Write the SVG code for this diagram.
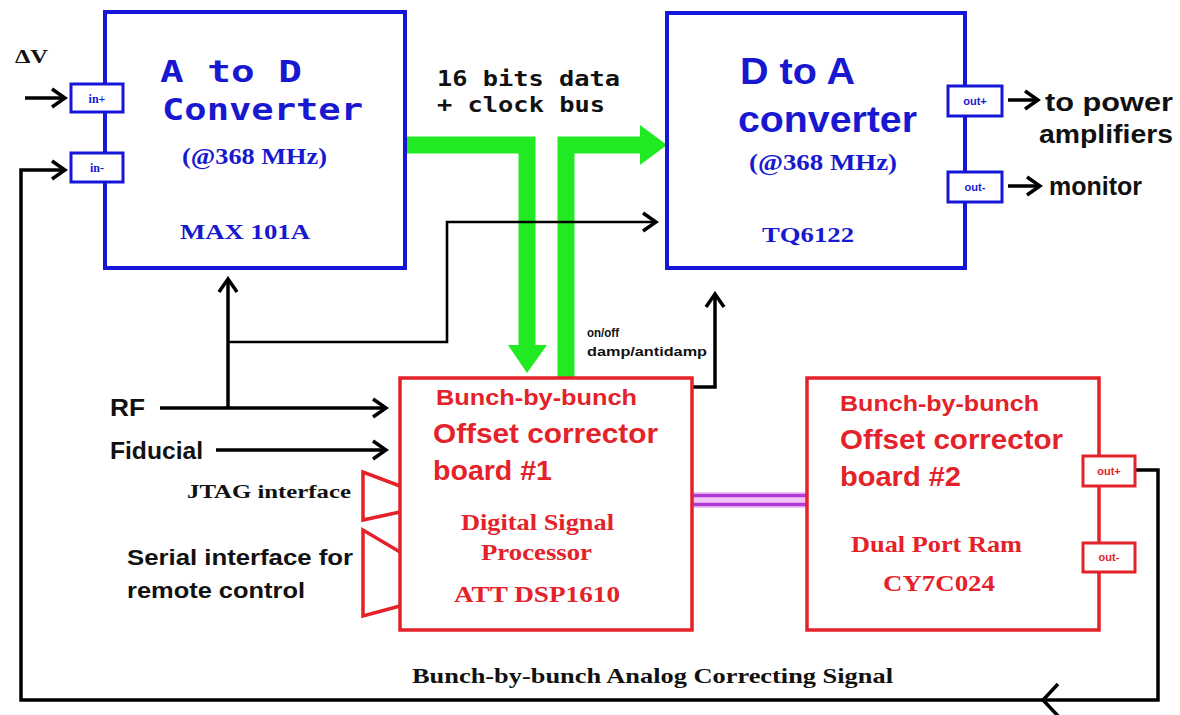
<svg xmlns="http://www.w3.org/2000/svg" width="1180" height="715" viewBox="0 0 1180 715">
<defs>
<style>
.blue{fill:#fff;stroke:#1616d8;stroke-width:4}
.red{fill:#fff;stroke:#e4222a;stroke-width:3.5}
.portb{fill:#fff;stroke:#1616d8;stroke-width:3}
.portr{fill:#fff;stroke:#e4222a;stroke-width:3}
.w{fill:none;stroke:#000;stroke-width:3.5}
.wt{fill:none;stroke:#000;stroke-width:2.6}
.bus{fill:none;stroke:#22ea22;stroke-width:17;stroke-linejoin:miter;stroke-linecap:butt}
.busHead{fill:#22ea22}
.purple{fill:none;stroke:#b03cd8;stroke-width:3.5}
.trap{fill:none;stroke:#e4222a;stroke-width:3.5;stroke-linejoin:miter}
.mono{font-family:"DejaVu Sans Mono","Liberation Mono",monospace;font-weight:bold}
.sans{font-family:"Liberation Sans",Arial,sans-serif;font-weight:bold}
.serif{font-family:"Liberation Serif","Times New Roman",serif;font-weight:bold}
.tb{fill:#1818d0}
.tr{fill:#e4222a}
.tk{fill:#111}
</style>
<marker id="ah" markerUnits="userSpaceOnUse" markerWidth="18" markerHeight="24" refX="15" refY="11" orient="auto" viewBox="0 0 18 22">
<path d="M2,2 L15,11 L2,20" fill="none" stroke="#000" stroke-width="3.5" stroke-linejoin="miter"/>
</marker>
</defs>
<rect width="1180" height="715" fill="#fff"/>

<g id="connectors">
  <path class="bus" d="M405,145 H527 V346"/>
  <polygon class="busHead" points="508,345 547,345 527,373"/>
  <path class="bus" d="M566,378 V145 H641"/>
  <polygon class="busHead" points="640,125 640,165 667,145"/>
  <path class="w" d="M25,98 H65" marker-end="url(#ah)"/>
  <path class="w" d="M1135,470 H1158 V700 H21 V170 H65" marker-end="url(#ah)"/>
  <path class="w" d="M1058,684 L1043,700 L1058,716"/>
  <path class="w" d="M160,408 H386" marker-end="url(#ah)"/>
  <path class="w" d="M228,408 V279" marker-end="url(#ah)"/>
  <path class="wt" d="M228,342 H447 V222 H656" marker-end="url(#ah)"/>
  <path class="w" d="M216,450 H386" marker-end="url(#ah)"/>
  <path class="w" d="M692,387 H715 V294" marker-end="url(#ah)"/>
  <path class="w" d="M1008,100 H1038" marker-end="url(#ah)"/>
  <path class="w" d="M1008,186 H1040" marker-end="url(#ah)"/>
  <rect x="692" y="492" width="115" height="16" fill="#f7c4f7"/>
  <path class="purple" d="M692,495.5 H807 M692,504.5 H807"/>
</g>

<g id="adc">
  <rect class="blue" x="105" y="12" width="300" height="256"/>
  <rect class="portb" x="71" y="84" width="52" height="28"/>
  <rect class="portb" x="71" y="153" width="52" height="29"/>
  <text class="serif tb" x="97" y="103" font-size="12" text-anchor="middle">in+</text>
  <text class="serif tb" x="97" y="172" font-size="12" text-anchor="middle">in-</text>
  <text class="mono tb" x="160" y="82" font-size="31" textLength="142" lengthAdjust="spacingAndGlyphs">A to D</text>
  <text class="mono tb" x="162" y="120" font-size="31" textLength="201" lengthAdjust="spacingAndGlyphs">Converter</text>
  <text class="serif tb" x="182" y="164" font-size="23" textLength="145" lengthAdjust="spacingAndGlyphs">(@368 MHz)</text>
  <text class="serif tb" x="180" y="239" font-size="22" textLength="130" lengthAdjust="spacingAndGlyphs">MAX 101A</text>
</g>

<g id="dac">
  <rect class="blue" x="667" y="13" width="298" height="255"/>
  <rect class="portb" x="948" y="86" width="54" height="30"/>
  <rect class="portb" x="948" y="172" width="54" height="30"/>
  <text class="sans tb" x="975" y="105" font-size="11" text-anchor="middle">out+</text>
  <text class="sans tb" x="975" y="191" font-size="11" text-anchor="middle">out-</text>
  <text class="sans tb" x="740" y="84" font-size="36" textLength="115" lengthAdjust="spacingAndGlyphs">D to A</text>
  <text class="sans tb" x="738" y="132" font-size="36" textLength="179" lengthAdjust="spacingAndGlyphs">converter</text>
  <text class="serif tb" x="749" y="170" font-size="23" textLength="148" lengthAdjust="spacingAndGlyphs">(@368 MHz)</text>
  <text class="serif tb" x="762" y="242" font-size="22" textLength="92" lengthAdjust="spacingAndGlyphs">TQ6122</text>
</g>

<g id="board1">
  <rect class="red" x="400" y="378" width="292" height="252"/>
  <text class="sans tr" x="436" y="405" font-size="22" textLength="201" lengthAdjust="spacingAndGlyphs">Bunch-by-bunch</text>
  <text class="sans tr" x="433" y="443" font-size="27" textLength="225" lengthAdjust="spacingAndGlyphs">Offset corrector</text>
  <text class="sans tr" x="433" y="480" font-size="27" textLength="119" lengthAdjust="spacingAndGlyphs">board #1</text>
  <text class="serif tr" x="461" y="530" font-size="23" textLength="153" lengthAdjust="spacingAndGlyphs">Digital Signal</text>
  <text class="serif tr" x="481" y="560" font-size="23" textLength="111" lengthAdjust="spacingAndGlyphs">Processor</text>
  <text class="serif tr" x="454" y="602" font-size="23" textLength="166" lengthAdjust="spacingAndGlyphs">ATT DSP1610</text>
</g>

<g id="jtag">
  <polyline class="trap" points="400,486 363,472 363,520 400,512"/>
  <text class="serif tk" x="187" y="498" font-size="19" textLength="164" lengthAdjust="spacingAndGlyphs">JTAG interface</text>
</g>

<g id="serial">
  <polyline class="trap" points="400,552 363,530 363,616 400,606"/>
  <text class="sans tk" x="127" y="565" font-size="22" textLength="226" lengthAdjust="spacingAndGlyphs">Serial interface for</text>
  <text class="sans tk" x="127" y="598" font-size="22" textLength="178" lengthAdjust="spacingAndGlyphs">remote control</text>
</g>

<g id="board2">
  <rect class="red" x="807" y="378" width="292" height="252"/>
  <rect class="portr" x="1083" y="456" width="52" height="30"/>
  <rect class="portr" x="1083" y="543" width="52" height="29"/>
  <text class="sans tr" x="1109" y="475" font-size="11" text-anchor="middle">out+</text>
  <text class="sans tr" x="1109" y="561" font-size="11" text-anchor="middle">out-</text>
  <text class="sans tr" x="840" y="411" font-size="22" textLength="199" lengthAdjust="spacingAndGlyphs">Bunch-by-bunch</text>
  <text class="sans tr" x="840" y="449" font-size="27" textLength="223" lengthAdjust="spacingAndGlyphs">Offset corrector</text>
  <text class="sans tr" x="840" y="486" font-size="27" textLength="121" lengthAdjust="spacingAndGlyphs">board #2</text>
  <text class="serif tr" x="851" y="552" font-size="23" textLength="171" lengthAdjust="spacingAndGlyphs">Dual Port Ram</text>
  <text class="serif tr" x="883" y="591" font-size="23" textLength="112" lengthAdjust="spacingAndGlyphs">CY7C024</text>
</g>

<g id="labels">
  <text class="serif tk" x="15" y="63" font-size="19" textLength="33" lengthAdjust="spacingAndGlyphs">ΔV</text>
  <text class="mono tk" x="437" y="86" font-size="22" textLength="183" lengthAdjust="spacingAndGlyphs">16 bits data</text>
  <text class="mono tk" x="437" y="112" font-size="22" textLength="168" lengthAdjust="spacingAndGlyphs">+ clock bus</text>
  <text class="sans tk" x="1045" y="111" font-size="25" textLength="128" lengthAdjust="spacingAndGlyphs">to power</text>
  <text class="sans tk" x="1039" y="143" font-size="25" textLength="134" lengthAdjust="spacingAndGlyphs">amplifiers</text>
  <text class="sans tk" x="1049" y="195" font-size="25" textLength="93" lengthAdjust="spacingAndGlyphs">monitor</text>
  <text class="sans tk" x="110" y="416" font-size="23" textLength="35" lengthAdjust="spacingAndGlyphs">RF</text>
  <text class="sans tk" x="110" y="459" font-size="23" textLength="93" lengthAdjust="spacingAndGlyphs">Fiducial</text>
  <text class="sans tk" x="587" y="337" font-size="12" textLength="32" lengthAdjust="spacingAndGlyphs">on/off</text>
  <text class="sans tk" x="587" y="356" font-size="12" textLength="120" lengthAdjust="spacingAndGlyphs">damp/antidamp</text>
  <text class="serif tk" x="412" y="683" font-size="21" textLength="481" lengthAdjust="spacingAndGlyphs">Bunch-by-bunch Analog Correcting Signal</text>
</g>
</svg>
